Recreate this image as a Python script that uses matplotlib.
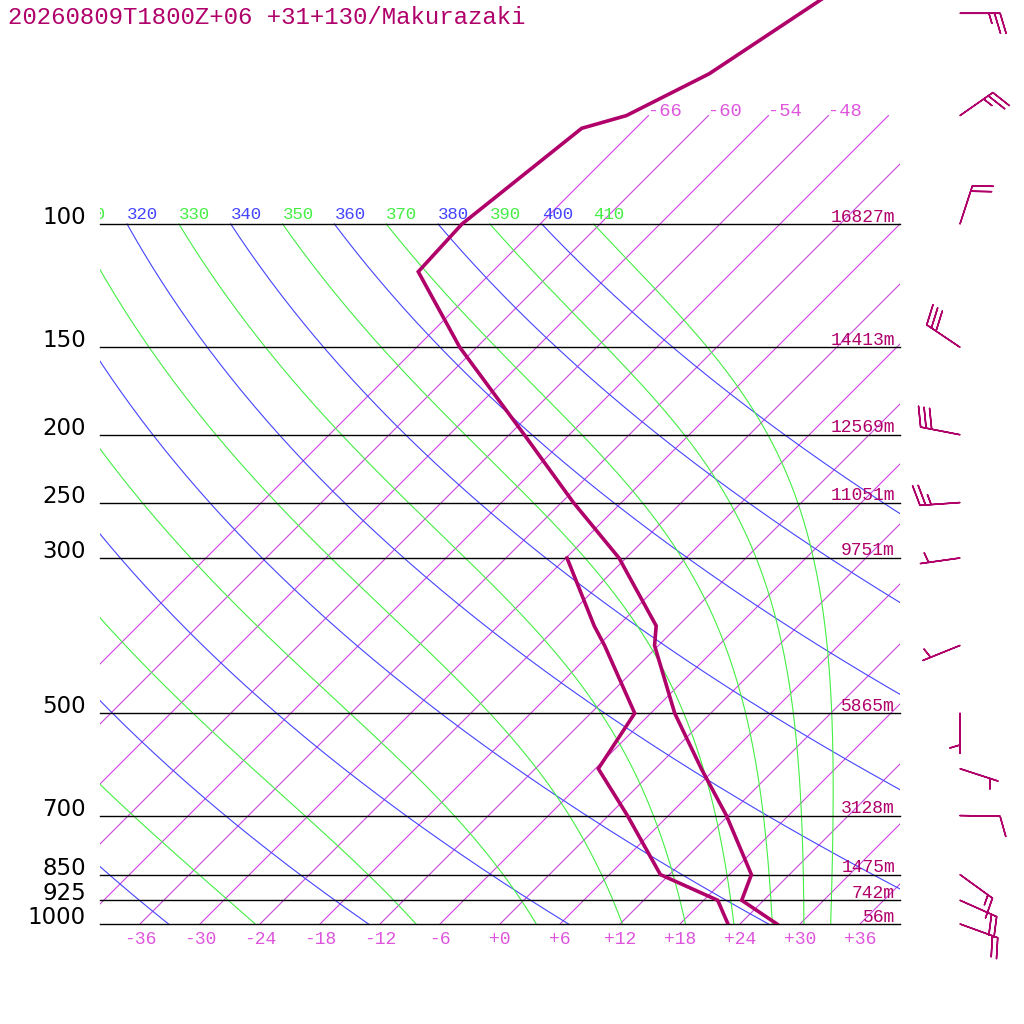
import numpy as np
import matplotlib
matplotlib.use("Agg")
import matplotlib.pyplot as plt
from matplotlib.transforms import Affine2D, offset_copy

# ---------------- data ----------------
title = "20260809T1800Z+06 +31+130/Makurazaki"

t_pres = [1000, 925, 850, 700, 600, 500, 400, 375, 300, 250, 200, 150, 117, 100, 73, 70, 61, 45]
t_vals = [27.7, 21.8, 20.2, 11.8, 4.6, -3.6, -12.4, -14.2, -24.7, -34.8, -46.5, -61.7,
          -73.4, -73.8, -71.4, -68.2, -64.1, -59.4]

td_pres = [1000, 925, 850, 700, 600, 500, 400, 375, 300]
td_vals = [22.8, 19.4, 11.1, 1.9, -5.7, -7.6, -17.4, -20.4, -29.9]

iso_pres = [100, 150, 200, 250, 300, 500, 700, 850, 925, 1000]
iso_heights = ["16827m", "14413m", "12569m", "11051m", "9751m", "5865m",
               "3128m", "1475m", "742m", "56m"]

wind_pres = [50, 70, 100, 150, 200, 250, 300, 400, 500, 600, 700, 850, 925, 1000]
wind_dir = [90, 55, 18, 304, 281, 266, 262, 248, 180, 108, 91, 126, 114, 110]
wind_spd = [25, 25, 20, 30, 30, 25, 5, 5, 5, 5, 10, 15, 20, 20]

isotherm_temps = list(range(-66, 37, 6))
bottom_label_temps = list(range(-36, 37, 6))
top_label_temps = [-66, -60, -54, -48]
dry_thetas = list(range(240, 401, 20))
moist_thetas = list(range(250, 411, 20))
theta_label_values = list(range(310, 411, 10))

# ---------------- style ----------------
COL_PROF = "#B0006A"
COL_ISOT = "#CC44DD"
COL_ISOT_LAB = "#DD55DD"
COL_DRY = "#4444FF"
COL_MOIST = "#44EE44"
MONO = ["Liberation Mono", "DejaVu Sans Mono"]

RD, CP, LV, EPS = 287.04, 1005.7, 2.501e6, 0.622
KAPPA = RD / CP

def sat_mr(T, p):
    tc = T - 273.15
    es = 6.112 * np.exp(17.67 * tc / (tc + 243.5))
    return EPS * es / (p - es)

def dTdp(T, p):
    rs = sat_mr(T, p)
    return (RD * T + LV * rs) / (CP + LV * LV * rs * EPS / (RD * T * T)) / p

def moist_profile(theta, pres):
    T = theta * (pres[0] / 1000.0) ** KAPPA
    out = [T]
    for i in range(len(pres) - 1):
        p0, p1 = pres[i], pres[i + 1]
        h = p1 - p0
        k1 = dTdp(T, p0)
        k2 = dTdp(T + h * k1 / 2, p0 + h / 2)
        k3 = dTdp(T + h * k2 / 2, p0 + h / 2)
        k4 = dTdp(T + h * k3, p1)
        T = T + h * (k1 + 2 * k2 + 2 * k3 + k4) / 6
        out.append(T)
    return np.array(out) - 273.15

# ---------------- figure ----------------
fig = plt.figure(figsize=(10.24, 10.24), dpi=100)
ax = fig.add_axes([100 / 1024, 100 / 1024, 800 / 1024, 924 / 1024])
ax.set_autoscale_on(False)
ax.set_yscale("log")
P_TOP = 1000 * 10 ** (-924 / 700)
ax.set_ylim(1000, P_TOP)
ax.set_xlim(-30, 50)
for s in ax.spines.values():
    s.set_visible(False)
ax.tick_params(which="both", left=False, bottom=False, labelleft=False, labelbottom=False)

skew = ax.transData + Affine2D().skew_deg(45, 0)
ytrans = ax.get_yaxis_transform()

# isobars
for p in iso_pres:
    ax.plot([0, 1], [p, p], transform=ytrans, color="black", lw=1.0, zorder=2,
            clip_on=False)

# isotherms
p_iso = np.array([1000.0, 70.0])
for t in isotherm_temps:
    ax.plot([t, t], p_iso, transform=skew, color=COL_ISOT, lw=0.8, zorder=1)

# adiabats
p_ad = np.geomspace(100, 1000, 300)
for th in dry_thetas:
    ax.plot(th * (p_ad / 1000.0) ** KAPPA - 273.15, p_ad, transform=skew,
            color=COL_DRY, lw=0.8, zorder=1)
for th in moist_thetas:
    ax.plot(moist_profile(th, p_ad), p_ad, transform=skew,
            color=COL_MOIST, lw=0.8, zorder=1)

# theta labels at 100 hPa
lab_tr = offset_copy(skew, fig=fig, x=0, y=5, units="dots")
for th in theta_label_values:
    col = COL_DRY if (th // 10) % 2 == 0 else COL_MOIST
    ax.text(th * 0.1 ** KAPPA - 273.15, 100, str(th), transform=lab_tr,
            ha="left", va="baseline", color=col, fontsize=12.5, family=MONO,
            clip_on=True)

# isotherm labels
bot_tr = offset_copy(skew, fig=fig, x=0, y=-15, units="dots")
for t in bottom_label_temps:
    ax.text(t, 1000, f"{t:+d}", transform=bot_tr, ha="center", va="center",
            color=COL_ISOT_LAB, fontsize=13, family=MONO)
for t in top_label_temps:
    ax.text(t, 70, f"{t:+d}", transform=skew, ha="left", va="baseline",
            color=COL_ISOT_LAB, fontsize=13.5, family=MONO)

# pressure and height labels
h_tr = offset_copy(ytrans, fig=fig, x=0, y=2.5, units="dots")
for p, h in zip(iso_pres, iso_heights):
    ax.text(-14 / 800, p, str(p), transform=ytrans, ha="right", va="baseline",
            color="black", fontsize=16.5, family="DejaVu Sans")
    ax.text(795 / 800, p, h, transform=h_tr, ha="right", va="baseline",
            color=COL_PROF, fontsize=13, family=MONO)

# profiles
ax.plot(t_vals, t_pres, transform=skew, color=COL_PROF, lw=2.6, zorder=5,
        solid_joinstyle="miter")
ax.plot(td_vals, td_pres, transform=skew, color=COL_PROF, lw=2.6, zorder=5,
        solid_joinstyle="miter")

# wind barbs
wd = np.radians(np.array(wind_dir, dtype=float))
ws = np.array(wind_spd, dtype=float)
u = -ws * np.sin(wd)
v = -ws * np.cos(wd)
ax.barbs(np.full(len(wind_pres), 860 / 800), wind_pres, u, v, transform=ytrans,
         clip_on=False, length=7.6, color=COL_PROF, linewidth=1.1,
         sizes=dict(height=0.5, width=0.3, spacing=0.14))

fig.text(8 / 1024, 1 - 24 / 1024, title, ha="left", va="baseline",
         color=COL_PROF, fontsize=17.3, family=MONO)

fig.savefig("out.png", dpi=100, facecolor="white")
